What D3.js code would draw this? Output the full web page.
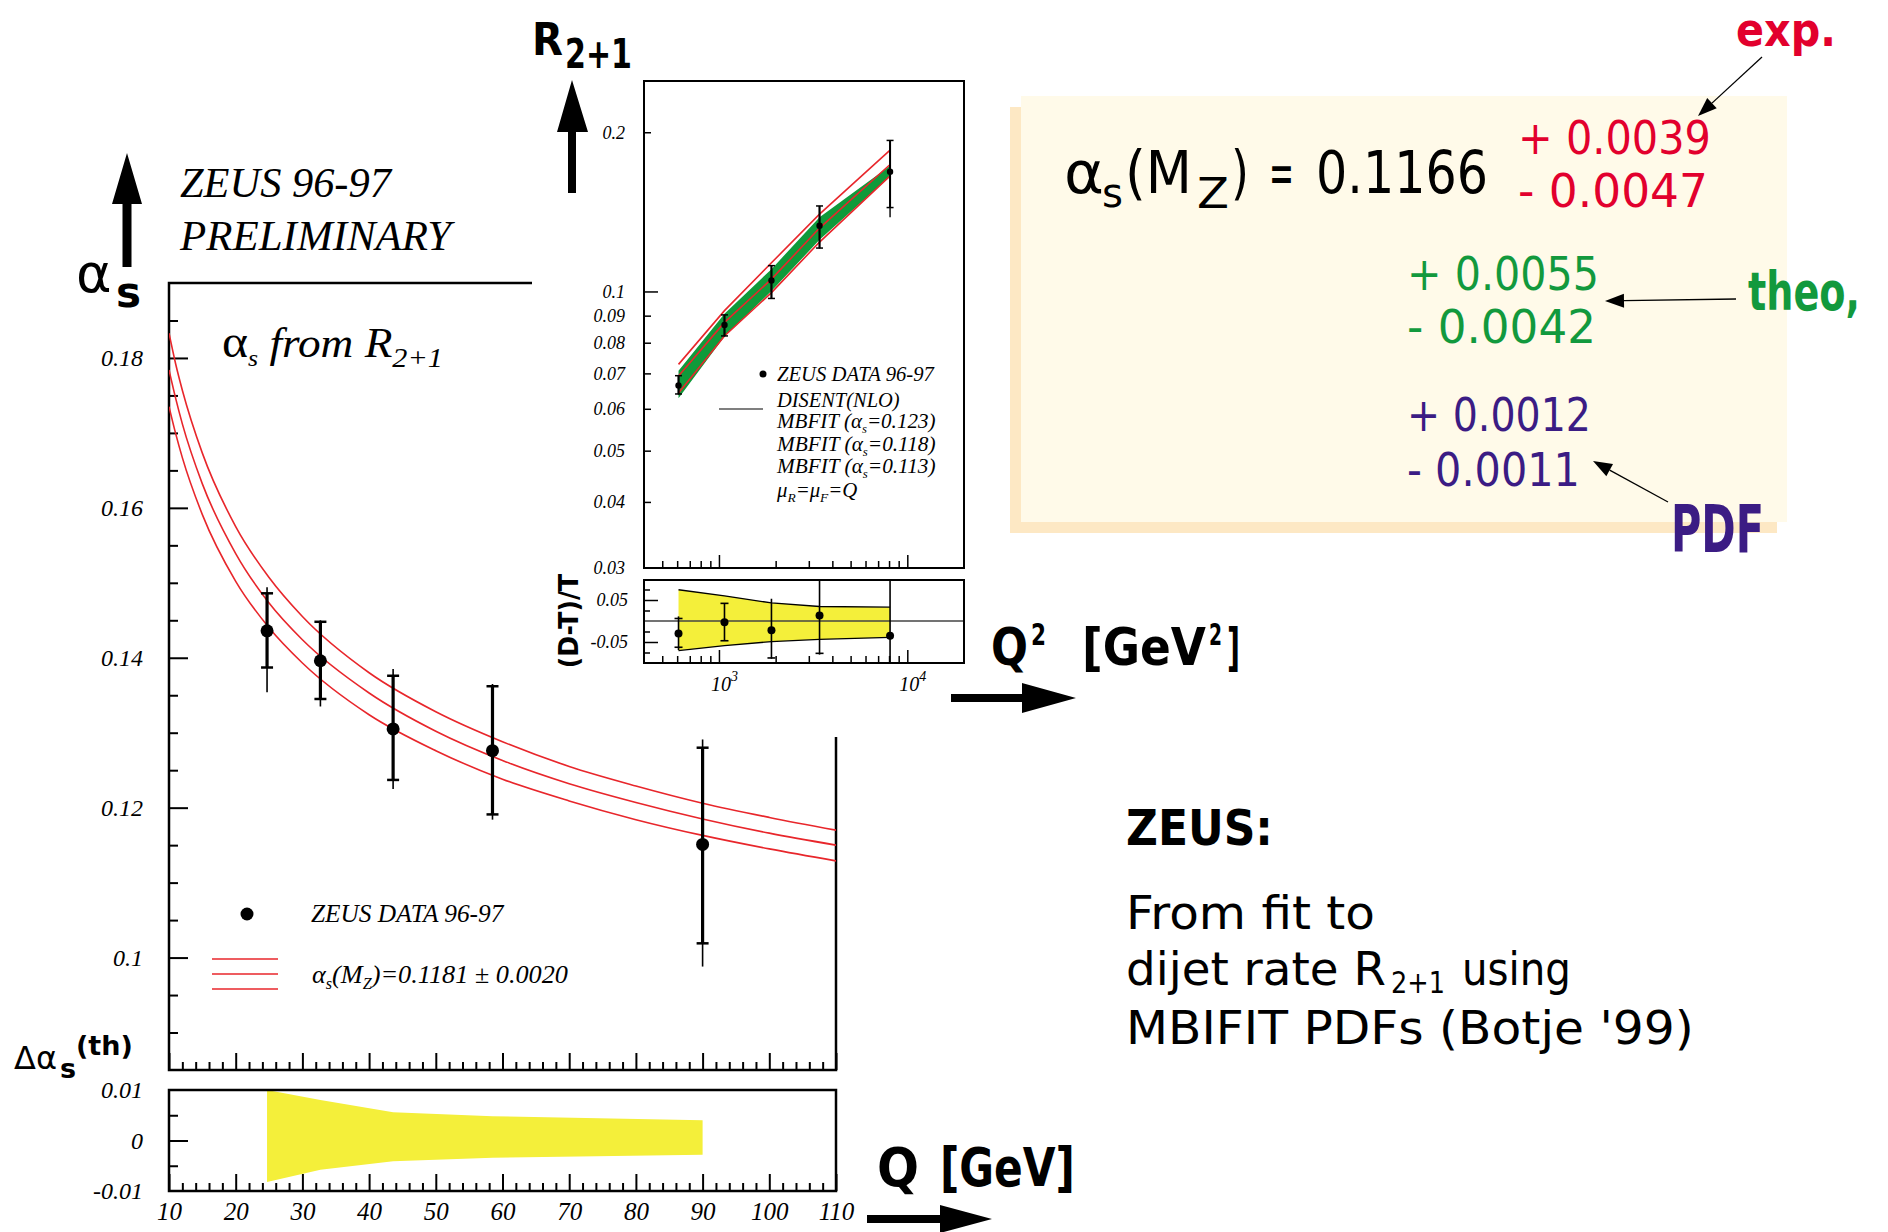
<!DOCTYPE html>
<html>
<head>
<meta charset="utf-8">
<script src="https://cdnjs.cloudflare.com/ajax/libs/d3/7.8.5/d3.min.js"></script>
<style>
  body { margin: 0; background: #fff; }
</style>
</head>
<body>
<div id="chart"></div>
<script>
// ---- values ----
// main plot: alpha_s from R2+1 versus Q
var qPts        = [24.7, 32.7, 43.6, 58.5, 90];
var alphaPts    = [0.1436, 0.1396, 0.1305, 0.1276, 0.1151];
var alphaStatHi = [0.1486, 0.1448, 0.1376, 0.1362, 0.1280];
var alphaStatLo = [0.1387, 0.1345, 0.1237, 0.1191, 0.1019];
var alphaTotHi  = [0.1494, 0.1450, 0.1385, 0.1365, 0.1291];
var alphaTotLo  = [0.1354, 0.1335, 0.1225, 0.1184, 0.0988];

// the three red running-coupling curves (0.1181 +- 0.0020)
var curveQ   = [10, 11, 12, 15, 20, 25, 30, 40, 50, 60, 70, 80, 90, 100, 110];
var alphaHi  = [0.1833, 0.1792, 0.1757, 0.1673, 0.1575, 0.1507, 0.1455, 0.1380, 0.1328, 0.1288, 0.1255, 0.1229, 0.1206, 0.1187, 0.1170];
var alphaMid = [0.1784, 0.1746, 0.1712, 0.1632, 0.1539, 0.1473, 0.1424, 0.1353, 0.1302, 0.1263, 0.1232, 0.1207, 0.1185, 0.1166, 0.1150];
var alphaLo  = [0.1735, 0.1699, 0.1667, 0.1591, 0.1502, 0.1440, 0.1393, 0.1324, 0.1276, 0.1238, 0.1209, 0.1184, 0.1163, 0.1145, 0.1129];

// theory uncertainty band (lower panel)
var dAlphaUp = [0.0100, 0.0080, 0.0056, 0.0048, 0.0040];
var dAlphaDn = [-0.0082, -0.0058, -0.0041, -0.0034, -0.0028];

// inset: R2+1 versus Q^2
var q2Pts    = [610, 1070, 1900, 3420, 8100];
var r21Pts   = [0.0664, 0.0864, 0.1049, 0.1331, 0.1684];
var r21StatHi = [0.0693, 0.0903, 0.1119, 0.1451, 0.1930];
var r21StatLo = [0.0640, 0.0824, 0.0970, 0.1208, 0.1441];
var r21TotLo  = [0.0638, 0.0822, 0.0968, 0.1205, 0.1382];
var mbfit123 = [0.0728, 0.0920, 0.1133, 0.1400, 0.1850];
var mbfit118 = [0.0692, 0.0874, 0.1055, 0.1318, 0.1738];
var mbfit113 = [0.0643, 0.0824, 0.0995, 0.1240, 0.1654];
var disentHi = [0.0708, 0.0908, 0.1102, 0.1382, 0.1728];
var disentLo = [0.0628, 0.0822, 0.1002, 0.1252, 0.1650];

// inset ratio panel (D-T)/T
var ratioPts    = [-0.030, -0.003, -0.022, 0.013, -0.035];
var ratioStatHi = [0.006, 0.042, 0.200, 0.200, 0.200];
var ratioStatLo = [-0.0625, -0.047, -0.088, -0.077, -0.200];
var ratioTotHi  = [0.011, 0.042, 0.053, 0.200, 0.200];
var ratioTotLo  = [-0.069, -0.047, -0.090, -0.080, -0.200];
var ratioBandUp = [0.0744, 0.060, 0.043, 0.0345, 0.033];
var ratioBandDn = [-0.0704, -0.0587, -0.049, -0.0437, -0.039];

// tick labels
var qTickLabels     = [10, 20, 30, 40, 50, 60, 70, 80, 90, 100, 110];
var alphaTickLabels = [0.1, 0.12, 0.14, 0.16, 0.18];
var dTickLabels     = [-0.01, 0, 0.01];
var rTickLabels     = [0.2, 0.1, 0.09, 0.08, 0.07, 0.06, 0.05, 0.04, 0.03];
var q2TickLabels    = [1000, 10000];
var ratioTickLabels = [0.05, -0.05];

var SERIF = "'Liberation Serif','Times New Roman',serif";
var HAND = "'DejaVu Sans',sans-serif";
var RED = "#e8262b", YELLOW = "#f4ef3a", GREEN = "#0f9a3a";

var svg = d3.select("#chart").append("svg")
    .attr("width", 1888).attr("height", 1232)
    .style("background", "#fff");

var defs = svg.append("defs");
defs.append("clipPath").attr("id", "mainClip").append("rect")
    .attr("x", 169).attr("y", 283).attr("width", 667).attr("height", 787);
defs.append("clipPath").attr("id", "deltaClip").append("rect")
    .attr("x", 169).attr("y", 1090).attr("width", 667).attr("height", 101);
defs.append("clipPath").attr("id", "ratioClip").append("rect")
    .attr("x", 644).attr("y", 580).attr("width", 320).attr("height", 83);

// text made of runs (subscripts etc.), placed at x,y and squeezed to a given width
function runs(g, x, y, parts, base, width) {
  var t = g.append("text").attr("x", 0).attr("y", 0)
      .attr("font-family", base.family).attr("font-size", base.size)
      .attr("font-style", base.style || "normal").attr("font-weight", base.weight || "normal")
      .attr("fill", base.fill || "#000");
  if (base.anchor) t.attr("text-anchor", base.anchor);
  parts.forEach(function(p) {
    var s = t.append("tspan").text(p.t);
    if (p.size) s.attr("font-size", p.size);
    if (p.dy) s.attr("dy", p.dy);
    if (p.style) s.attr("font-style", p.style);
  });
  var k = 1;
  if (width) k = width / t.node().getBBox().width;
  t.attr("transform", "translate(" + x + "," + y + ")" + (base.rotate ? " rotate(" + base.rotate + ")" : "") +
      " scale(" + k + ",1)");
  return t;
}
function word(g, x, y, s, base, width) { return runs(g, x, y, [{t: s}], base, width); }

// ================= main plot =================
var xQ = d3.scaleLinear().domain([10, 110]).range([169, 836]);
var yA = d3.scaleLinear().domain([0.085, 0.19]).range([1070, 283]);
var yD = d3.scaleLinear().domain([-0.01, 0.01]).range([1191, 1090]);

var main = svg.append("g");

// theory band in lower panel
main.append("path")
    .datum(qPts.map(function(q, i) { return [q, dAlphaUp[i], dAlphaDn[i]]; }))
    .attr("d", d3.area().x(function(d) { return xQ(d[0]); })
        .y0(function(d) { return yD(d[2]); }).y1(function(d) { return yD(d[1]); }))
    .attr("fill", YELLOW).attr("clip-path", "url(#deltaClip)");

// axes: ticks point inward, frame drawn separately
function styleAxis(g, size) {
  g.select(".domain").remove();
  g.attr("font-family", SERIF).attr("font-size", size).attr("font-style", "italic");
  g.selectAll("line").attr("stroke", "#000").attr("stroke-width", 2);
  g.selectAll("text").attr("fill", "#000");
}
var qMinor = d3.range(12, 110, 2).filter(function(v) { return v % 10 !== 0; });
[1070, 1191].forEach(function(yy, k) {
  main.append("g").attr("transform", "translate(0," + yy + ")")
      .call(d3.axisBottom(xQ).tickValues(qTickLabels).tickSize(-17).tickPadding(11)
        .tickFormat(k === 1 ? d3.format("d") : ""))
      .call(styleAxis, 25);
  main.append("g").attr("transform", "translate(0," + yy + ")")
      .call(d3.axisBottom(xQ).tickValues(qMinor).tickSize(-8).tickFormat(""))
      .call(styleAxis, 25);
});
var aMinor = d3.range(18, 38).filter(function(i) { return i % 4 !== 0; })
    .map(function(i) { return +(i * 0.005).toFixed(3); });
main.append("g").attr("transform", "translate(169,0)")
    .call(d3.axisLeft(yA).tickValues(alphaTickLabels).tickSize(-19).tickPadding(26)
      .tickFormat(function(d) { return String(d); }))
    .call(styleAxis, 24);
main.append("g").attr("transform", "translate(169,0)")
    .call(d3.axisLeft(yA).tickValues(aMinor).tickSize(-9).tickFormat(""))
    .call(styleAxis, 24);
main.append("g").attr("transform", "translate(169,0)")
    .call(d3.axisLeft(yD).tickValues(dTickLabels).tickSize(-19).tickPadding(26)
      .tickFormat(function(d) { return String(d); }))
    .call(styleAxis, 24)
    .call(function(g) { g.selectAll(".tick line").filter(function(d) { return d !== 0; }).remove(); });
main.append("g").attr("transform", "translate(169,0)")
    .call(d3.axisLeft(yD).tickValues([-0.005, 0.005]).tickSize(-9).tickFormat(""))
    .call(styleAxis, 24);

// frames
main.append("rect").attr("x", 169).attr("y", 283).attr("width", 667).attr("height", 787)
    .attr("fill", "none").attr("stroke", "#000").attr("stroke-width", 2.5);
main.append("rect").attr("x", 169).attr("y", 1090).attr("width", 667).attr("height", 101)
    .attr("fill", "none").attr("stroke", "#000").attr("stroke-width", 2.5);

// red curves
var curveLine = d3.line().curve(d3.curveMonotoneX)
    .x(function(d) { return xQ(d[0]); }).y(function(d) { return yA(d[1]); });
[alphaHi, alphaMid, alphaLo].forEach(function(arr) {
  main.append("path").datum(curveQ.map(function(q, i) { return [q, arr[i]]; }))
      .attr("d", curveLine).attr("fill", "none").attr("stroke", RED)
      .attr("stroke-width", 1.6).attr("clip-path", "url(#mainClip)");
});

// data with error bars
var pts = qPts.map(function(q, i) {
  return {q: q, v: alphaPts[i], sh: alphaStatHi[i], sl: alphaStatLo[i], th: alphaTotHi[i], tl: alphaTotLo[i]};
});
var pg = main.append("g").selectAll("g").data(pts).join("g");
pg.append("line").attr("x1", function(d) { return xQ(d.q); }).attr("x2", function(d) { return xQ(d.q); })
    .attr("y1", function(d) { return yA(d.th); }).attr("y2", function(d) { return yA(d.tl); })
    .attr("stroke", "#000").attr("stroke-width", 1.6);
pg.append("line").attr("x1", function(d) { return xQ(d.q); }).attr("x2", function(d) { return xQ(d.q); })
    .attr("y1", function(d) { return yA(d.sh); }).attr("y2", function(d) { return yA(d.sl); })
    .attr("stroke", "#000").attr("stroke-width", 3.2);
["sh", "sl"].forEach(function(k) {
  pg.append("line").attr("x1", function(d) { return xQ(d.q) - 6; }).attr("x2", function(d) { return xQ(d.q) + 6; })
      .attr("y1", function(d) { return yA(d[k]); }).attr("y2", function(d) { return yA(d[k]); })
      .attr("stroke", "#000").attr("stroke-width", 2.5);
});
pg.append("circle").attr("cx", function(d) { return xQ(d.q); }).attr("cy", function(d) { return yA(d.v); })
    .attr("r", 6.5).attr("fill", "#000");

// legend inside main plot
var serifIt = function(size) { return {family: SERIF, size: size, style: "italic"}; };
main.append("circle").attr("cx", 247).attr("cy", 914).attr("r", 6.5).attr("fill", "#000");
word(main, 311, 922, "ZEUS DATA 96-97", serifIt(25), 194);
[959, 974, 989].forEach(function(yy) {
  main.append("line").attr("x1", 212).attr("x2", 278).attr("y1", yy).attr("y2", yy)
      .attr("stroke", RED).attr("stroke-width", 1.6);
});
runs(main, 312, 983, [
  {t: "α"}, {t: "s", size: 16, dy: 6}, {t: "(M", dy: -6}, {t: "Z", size: 16, dy: 6},
  {t: ")=0.1181 ± 0.0020", dy: -6}
], serifIt(26), 256);

// titles in main plot
word(main, 180, 197, "ZEUS 96-97", serifIt(42), 213);
word(main, 180, 250, "PRELIMINARY", serifIt(42), 277);
runs(main, 222, 357, [
  {t: "α", style: "normal", size: 46}, {t: "s", size: 24, dy: 9},
  {t: " from ", dy: -9}, {t: "R"}, {t: "2+1", size: 28, dy: 10}
], serifIt(42), 221);

// alpha_s axis label and arrow
main.append("polygon").attr("points", "122.5,267 131.5,267 131.5,204 142,204 127,153 112,204 122.5,204")
    .attr("fill", "#000");
word(main, 76, 292, "α", {family: HAND, size: 54});
word(main, 116, 307, "s", {family: HAND, size: 42, weight: "bold"});
// delta alpha_s label
word(main, 14, 1069, "Δα", {family: HAND, size: 32});
word(main, 60, 1078, "s", {family: HAND, size: 27, weight: "bold"});
word(main, 76, 1055, "(th)", {family: HAND, size: 27, weight: "bold"});

// Q arrow + label
main.append("polygon").attr("points", "867,1215 940,1215 940,1205 992,1219 940,1233 940,1223 867,1223")
    .attr("fill", "#000");
var bigBold = {family: HAND, size: 54, weight: "bold"};
word(main, 877, 1186, "Q", bigBold, 42);
word(main, 940, 1186, "[GeV]", bigBold, 135);

// ================= inset =================
svg.append("rect").attr("x", 532).attr("y", 0).attr("width", 470).attr("height", 737).attr("fill", "#fff");
var ins = svg.append("g");
var ix = d3.scaleLog().domain([400, 20000]).range([644, 964]);
var iy = d3.scaleLog().domain([0.03, 0.25]).range([568, 81]);
var ir = d3.scaleLinear().domain([-0.1, 0.1]).range([663, 579]);

// ratio band and zero line
var ratioG = ins.append("g").attr("clip-path", "url(#ratioClip)");
ratioG.append("path")
    .datum(q2Pts.map(function(q, i) { return [q, ratioBandUp[i], ratioBandDn[i]]; }))
    .attr("d", d3.area().x(function(d) { return ix(d[0]); })
        .y0(function(d) { return ir(d[2]); }).y1(function(d) { return ir(d[1]); }))
    .attr("fill", YELLOW);
[ratioBandUp, ratioBandDn].forEach(function(arr) {
  ratioG.append("path").datum(q2Pts.map(function(q, i) { return [q, arr[i]]; }))
      .attr("d", d3.line().x(function(d) { return ix(d[0]); }).y(function(d) { return ir(d[1]); }))
      .attr("fill", "none").attr("stroke", "#000").attr("stroke-width", 1.3);
});
ratioG.append("line").attr("x1", 644).attr("x2", 964).attr("y1", ir(0)).attr("y2", ir(0))
    .attr("stroke", "#444").attr("stroke-width", 1.4);
var rpts = q2Pts.map(function(q, i) {
  return {q: q, v: ratioPts[i], sh: ratioStatHi[i], sl: ratioStatLo[i], th: ratioTotHi[i], tl: ratioTotLo[i]};
});
var rg = ratioG.append("g").selectAll("g").data(rpts).join("g");
rg.append("line").attr("x1", function(d) { return ix(d.q); }).attr("x2", function(d) { return ix(d.q); })
    .attr("y1", function(d) { return ir(d.th); }).attr("y2", function(d) { return ir(d.tl); })
    .attr("stroke", "#000").attr("stroke-width", 1.6);
["sh", "sl"].forEach(function(k) {
  rg.filter(function(d) { return Math.abs(d[k]) < 0.095; }).append("line")
      .attr("x1", function(d) { return ix(d.q) - 4; }).attr("x2", function(d) { return ix(d.q) + 4; })
      .attr("y1", function(d) { return ir(d[k]); }).attr("y2", function(d) { return ir(d[k]); })
      .attr("stroke", "#000").attr("stroke-width", 1.6);
});
rg.append("circle").attr("cx", function(d) { return ix(d.q); }).attr("cy", function(d) { return ir(d.v); })
    .attr("r", 4).attr("fill", "#000");

// DISENT band and MBFIT lines
ins.append("path")
    .datum(q2Pts.map(function(q, i) { return [q, disentHi[i], disentLo[i]]; }))
    .attr("d", d3.area().x(function(d) { return ix(d[0]); })
        .y0(function(d) { return iy(d[2]); }).y1(function(d) { return iy(d[1]); }))
    .attr("fill", GREEN);
[mbfit123, mbfit118, mbfit113].forEach(function(arr) {
  ins.append("path").datum(q2Pts.map(function(q, i) { return [q, arr[i]]; }))
      .attr("d", d3.line().x(function(d) { return ix(d[0]); }).y(function(d) { return iy(d[1]); }))
      .attr("fill", "none").attr("stroke", RED).attr("stroke-width", 1.6);
});
var ipts = q2Pts.map(function(q, i) {
  return {q: q, v: r21Pts[i], sh: r21StatHi[i], sl: r21StatLo[i], tl: r21TotLo[i]};
});
var ig = ins.append("g").selectAll("g").data(ipts).join("g");
ig.append("line").attr("x1", function(d) { return ix(d.q); }).attr("x2", function(d) { return ix(d.q); })
    .attr("y1", function(d) { return iy(d.sh); }).attr("y2", function(d) { return iy(d.tl); })
    .attr("stroke", "#000").attr("stroke-width", 1.4);
ig.append("line").attr("x1", function(d) { return ix(d.q); }).attr("x2", function(d) { return ix(d.q); })
    .attr("y1", function(d) { return iy(d.sh); }).attr("y2", function(d) { return iy(d.sl); })
    .attr("stroke", "#000").attr("stroke-width", 2);
["sh", "sl"].forEach(function(k) {
  ig.append("line").attr("x1", function(d) { return ix(d.q) - 3.5; }).attr("x2", function(d) { return ix(d.q) + 3.5; })
      .attr("y1", function(d) { return iy(d[k]); }).attr("y2", function(d) { return iy(d[k]); })
      .attr("stroke", "#000").attr("stroke-width", 1.5);
});
ig.append("circle").attr("cx", function(d) { return ix(d.q); }).attr("cy", function(d) { return iy(d.v); })
    .attr("r", 3.2).attr("fill", "#000");

// inset axes
var q2Minor = [500, 600, 700, 800, 900, 2000, 3000, 4000, 5000, 6000, 7000, 8000, 9000];
[568, 663].forEach(function(yy) {
  ins.append("g").attr("transform", "translate(0," + yy + ")")
      .call(d3.axisBottom(ix).tickValues(q2TickLabels).tickSize(-13).tickFormat(""))
      .call(styleAxis, 18);
  ins.append("g").attr("transform", "translate(0," + yy + ")")
      .call(d3.axisBottom(ix).tickValues(q2Minor).tickSize(-7).tickFormat(""))
      .call(styleAxis, 18);
});
ins.selectAll(".tick line").attr("stroke-width", 1.5);
var rAx = ins.append("g").attr("transform", "translate(644,0)")
    .call(d3.axisLeft(iy).tickValues(rTickLabels).tickSize(-7).tickPadding(19)
      .tickFormat(function(d) { return String(d); }))
    .call(styleAxis, 18);
rAx.selectAll(".tick line").attr("stroke-width", 1.5)
    .attr("x2", function(d) { return d === 0.1 ? 14 : (d === 0.03 ? 0 : 7); });
ins.append("g").attr("transform", "translate(644,0)")
    .call(d3.axisLeft(ir).tickValues(ratioTickLabels).tickSize(-14).tickPadding(16)
      .tickFormat(function(d) { return String(d); }))
    .call(styleAxis, 18)
    .call(function(g) { g.selectAll(".tick line").attr("stroke-width", 1.5); });
ins.append("g").attr("transform", "translate(644,0)")
    .call(d3.axisLeft(ir).tickValues([0.075, 0.025, -0.025, -0.075]).tickSize(-6).tickFormat(""))
    .call(styleAxis, 18)
    .call(function(g) { g.selectAll(".tick line").attr("stroke-width", 1.5); });
q2TickLabels.forEach(function(v) {
  runs(ins, ix(v) - 8, 691, [{t: "10"}, {t: String(Math.round(Math.log10(v))), size: 14, dy: -10}], serifIt(20));
});

ins.append("rect").attr("x", 644).attr("y", 81).attr("width", 320).attr("height", 487)
    .attr("fill", "none").attr("stroke", "#000").attr("stroke-width", 2);
ins.append("rect").attr("x", 644).attr("y", 580).attr("width", 320).attr("height", 83)
    .attr("fill", "none").attr("stroke", "#000").attr("stroke-width", 2);

// inset legend
ins.append("circle").attr("cx", 763).attr("cy", 374).attr("r", 3.5).attr("fill", "#000");
ins.append("line").attr("x1", 719).attr("x2", 763).attr("y1", 409).attr("y2", 409)
    .attr("stroke", "#000").attr("stroke-width", 1.2);
word(ins, 777, 381, "ZEUS DATA 96-97", serifIt(20), 158);
word(ins, 777, 407, "DISENT(NLO)", serifIt(20), 124);
["0.123", "0.118", "0.113"].forEach(function(a, i) {
  runs(ins, 777, 428 + i * 22.5, [{t: "MBFIT (α"}, {t: "s", size: 12, dy: 5}, {t: "=" + a + ")", dy: -5}],
    serifIt(20), 160);
});
runs(ins, 777, 497, [{t: "μ"}, {t: "R", size: 13, dy: 5}, {t: "=μ", dy: -5}, {t: "F", size: 13, dy: 5},
  {t: "=Q", dy: -5}], serifIt(20), 82);

// inset labels and arrows
ins.append("polygon").attr("points", "568,193 576,193 576,132 588,132 572,80 557,132 568,132")
    .attr("fill", "#000");
word(ins, 532, 55, "R", {family: HAND, size: 44, weight: "bold"}, 31);
word(ins, 565, 68, "2+1", {family: HAND, size: 40, weight: "bold"}, 67);
word(ins, 578, 621, "(D-T)/T", {family: HAND, size: 27, weight: "bold", anchor: "middle", rotate: -90}, 95);

// Q^2 arrow + label
svg.append("polygon").attr("points", "951,694 1022,694 1022,683 1076,698 1022,713 1022,702 951,702")
    .attr("fill", "#000");
var q2Bold = {family: HAND, size: 52, weight: "bold"};
var q2Sup = {family: HAND, size: 30, weight: "bold"};
word(svg, 991, 665, "Q", q2Bold, 37);
word(svg, 1031, 645, "2", q2Sup, 15);
word(svg, 1082, 665, "[GeV", q2Bold, 124);
word(svg, 1209, 645, "2", q2Sup, 13);
word(svg, 1227, 665, "]", q2Bold, 13);

// ================= result box =================
var box = svg.append("g");
box.append("rect").attr("x", 1010).attr("y", 107).attr("width", 767).attr("height", 426).attr("fill", "#fde8c4");
box.append("rect").attr("x", 1021).attr("y", 96).attr("width", 766).attr("height", 426).attr("fill", "#fffae9");

function handText(x, y, s, size, len, fill, weight) {
  return word(box, x, y, s, {family: HAND, size: size, weight: weight || "normal", fill: fill || "#000"}, len);
}
handText(1064, 193, "α", 58, 40);
handText(1102, 207, "s", 40, 21);
handText(1125, 193, "(M", 58, 67);
handText(1197, 208, "Z", 42, 32);
handText(1231, 193, ")", 58, 18);
handText(1269, 193, "=", 58, 25);
handText(1316, 193, "0.1166", 58, 172);

var C_RED = "#e2002d", C_GREEN = "#12993d", C_PURPLE = "#3b1c84";
handText(1518, 154, "+ 0.0039", 46, 193, C_RED);
handText(1518, 207, "- 0.0047", 46, 190, C_RED);
handText(1407, 290, "+ 0.0055", 46, 192, C_GREEN);
handText(1407, 343, "- 0.0042", 46, 189, C_GREEN);
handText(1407, 431, "+ 0.0012", 46, 184, C_PURPLE);
handText(1407, 486, "- 0.0011", 46, 173, C_PURPLE);

handText(1736, 46, "exp.", 46, 100, C_RED, "bold");
handText(1748, 310, "theo,", 54, 112, C_GREEN, "bold");
handText(1671, 552, "PDF", 66, 93, C_PURPLE, "bold");

// thin annotation arrows
function thinArrow(x1, y1, x2, y2) {
  var dx = x2 - x1, dy = y2 - y1, L = Math.sqrt(dx * dx + dy * dy);
  var ux = dx / L, uy = dy / L, hl = 19, hw = 7;
  var bx = x2 - ux * hl, by = y2 - uy * hl;
  box.append("line").attr("x1", x1).attr("y1", y1).attr("x2", bx).attr("y2", by)
      .attr("stroke", "#000").attr("stroke-width", 1.3);
  box.append("polygon").attr("points", [
    [x2, y2], [bx - uy * hw, by + ux * hw], [bx + uy * hw, by - ux * hw]
  ].map(function(p) { return p.join(","); }).join(" ")).attr("fill", "#000");
}
thinArrow(1762, 57, 1698, 116);
thinArrow(1736, 299, 1605, 301);
thinArrow(1668, 502, 1593, 461);

// ================= text block =================
var tb = svg.append("g");
var hand46 = {family: HAND, size: 46};
word(tb, 1126, 845, "ZEUS:", {family: HAND, size: 50, weight: "bold"}, 147);
word(tb, 1126, 929, "From fit to", hand46, 249);
word(tb, 1126, 985, "dijet rate R", hand46, 260);
word(tb, 1391, 993, "2+1", {family: HAND, size: 30}, 54);
word(tb, 1462, 985, "using", hand46, 109);
word(tb, 1126, 1044, "MBIFIT PDFs (Botje '99)", hand46, 568);
</script>
</body>
</html>
